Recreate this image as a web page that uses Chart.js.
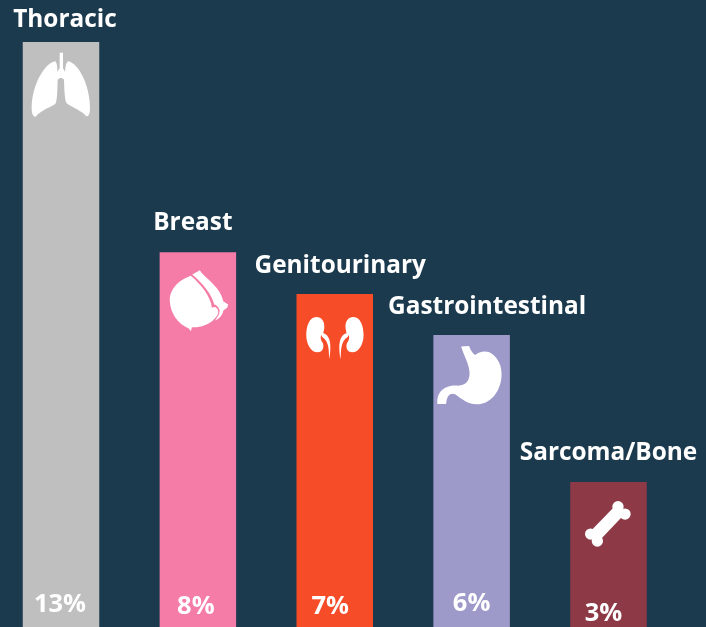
<!DOCTYPE html>
<html>
<head>
<meta charset="utf-8">
<script src="https://cdn.jsdelivr.net/npm/chart.js@4"></script>
<style>
html,body{margin:0;padding:0;background:#1b3a4e;overflow:hidden}
canvas{display:block}
</style>
</head>
<body>
<canvas id="c" width="706" height="627"></canvas>
<script>
const categories = ["Thoracic","Breast","Genitourinary","Gastrointestinal","Sarcoma/Bone"];
const shownPercent = ["13%","8%","7%","6%","3%"];
const barHeights = [13, 8.33, 7.4, 6.49, 3.22];
const barColors = ["#bfbfbf","#f57ca7","#f74c28","#9d99c9","#8d3a46"];

const nameDx = [4,-5,5.5,15.5,0];
const nameDy = [-22,-29,-28,-28,-29];
const pctDx = [-1,-2,-4.5,0,-5];
const pctY = [605,607,607,604,614];

const icons = [
 {o:[183,126],d:["M179 158 L189 158 L189 205 L195 215 C197 200 197 188 205 184 C235 190 270 255 270 325 C270 342 265 352 258 348 C248 334 215 322 200 310 C194 300 193 270 192 240 C188 232 178 232 173 240 C172 270 172 302 166 312 C150 322 118 334 107 350 C100 352 95 342 95 325 C95 255 135 188 166 184 C172 190 172 205 172 215 L179 205 Z"]},
 {o:[99,-39],d:["M78 32 C40 45 12 75 15 110 C17 145 40 178 72 190 L78 198 L81 186 C105 188 130 178 145 165 C150 158 162 150 160 138 C158 128 150 122 141 128 C138 95 110 60 78 32 Z","M82 28 L105 15 C112 28 130 40 143 55 C160 72 172 90 175 108 L190 118 L187 128 L176 135 C172 150 165 160 150 166 C160 155 168 140 162 130 C158 122 152 118 148 118 C142 90 115 55 82 28 Z"]},
 {o:[163.5,162],d:["M108 231 C88 231 78 258 78 285 C78 312 92 337 112 337 C128 337 132 322 128 310 C122 300 120 295 122 287 C130 283 130 275 132 265 C134 245 125 231 108 231 Z","M122 278 C145 280 157 300 147 358 C145 330 148 305 125 290 Z","M220 231 C240 231 250 258 250 285 C250 312 236 337 216 337 C200 337 196 322 200 310 C206 300 208 295 206 287 C198 283 198 275 196 265 C194 245 203 231 220 231 Z","M206 278 C183 280 171 300 181 358 C183 330 180 305 203 290 Z"]},
 {o:[574.5,285],d:["M543 320 L567 318 C570 330 578 340 585 345 C600 332 625 330 640 345 C660 362 668 390 663 420 C655 465 625 493 590 493 C565 493 545 478 525 463 C512 458 500 465 498 492 L472 492 C468 455 495 435 530 437 C560 438 570 420 568 395 C566 370 552 350 543 320 Z"]},
 {o:[325.5,156],d:["M354 213 a17 17 0 1 1 0 34 a17 17 0 1 1 0 -34 Z","M375 235 a17 17 0 1 1 0 34 a17 17 0 1 1 0 -34 Z","M272 295 a17 17 0 1 1 0 34 a17 17 0 1 1 0 -34 Z","M292 316 a17 17 0 1 1 0 34 a17 17 0 1 1 0 -34 Z","M345 228 L372 254 L298 332 L270 305 Z"]}
];

const overlay = {
  id:"overlay",
  afterDatasetsDraw(chart){
    const ctx = chart.ctx;
    const bars = chart.getDatasetMeta(0).data;
    ctx.save();
    ctx.fillStyle = "#ffffff";
    ctx.textAlign = "center";
    ctx.textBaseline = "middle";
    bars.forEach((b,i)=>{
      ctx.font = "bold 24.4px 'Open Sans'";
      ctx.fillText(categories[i], b.x+nameDx[i], b.y+nameDy[i]);
      ctx.font = "bold 25.5px 'Open Sans'";
      ctx.fillText(shownPercent[i], b.x+pctDx[i], pctY[i]);
      ctx.save();
      ctx.translate(b.x,b.y);
      ctx.scale(1/3,1/3);
      ctx.translate(-icons[i].o[0],-icons[i].o[1]);
      icons[i].d.forEach(p=>ctx.fill(new Path2D(p)));
      ctx.restore();
    });
    ctx.restore();
  }
};

new Chart(document.getElementById("c"),{
  type:"bar",
  data:{labels:categories,datasets:[{data:barHeights,backgroundColor:barColors,borderWidth:0,inflateAmount:0,barThickness:76.5,clip:false}]},
  plugins:[overlay],
  options:{
    responsive:false,animation:false,
    layout:{padding:{top:42,bottom:0,left:61,right:97.5}},
    plugins:{legend:{display:false},tooltip:{enabled:false},title:{display:false}},
    scales:{
      x:{display:false,offset:false,grid:{display:false}},
      y:{display:false,min:0,max:13,grid:{display:false}}
    }
  }
});
</script>
</body>
</html>
